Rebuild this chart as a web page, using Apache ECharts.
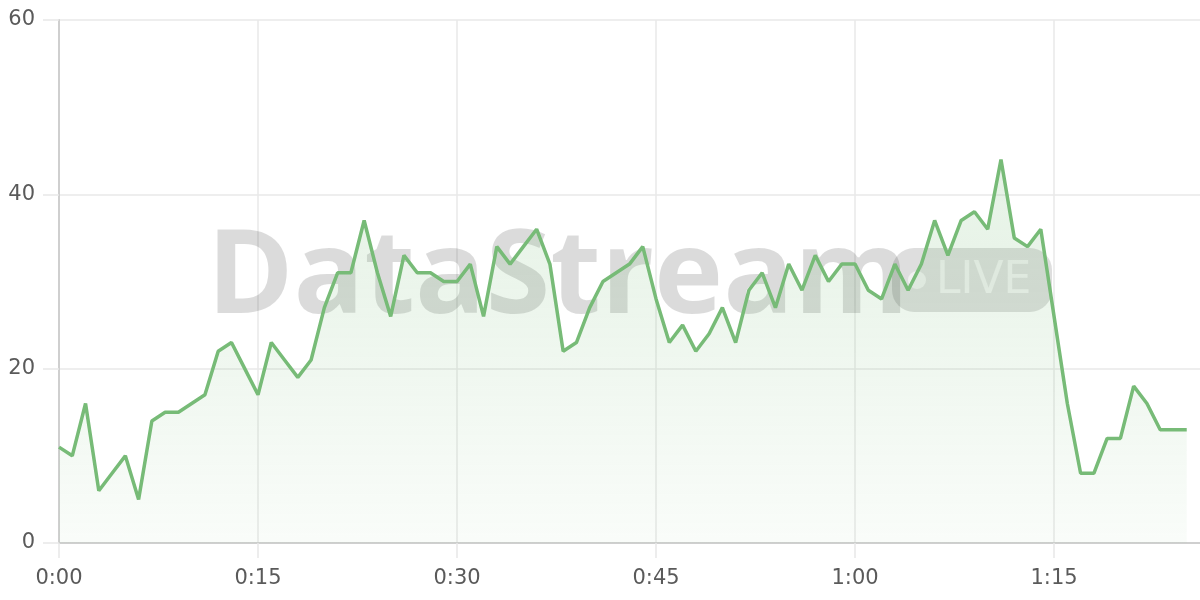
<!DOCTYPE html>
<html>
<head>
<meta charset="utf-8">
<title>DataStream</title>
<script src="https://cdn.jsdelivr.net/npm/echarts@6/dist/echarts.min.js"></script>
<style>
  html, body { margin: 0; padding: 0; background: #fff; }
  #chart { width: 1200px; height: 600px; }
</style>
</head>
<body>
<div id="chart"></div>
<script>
// one value per minute, 0:00 .. 1:25
const values = [
  11, 10, 16, 6, 8, 10, 5, 14, 15, 15,
  16, 17, 22, 23, 20, 17, 23, 21, 19, 21,
  27, 31, 31, 37, 31, 26, 33, 31, 31, 30,
  30, 32, 26, 34, 32, 34, 36, 32, 22, 23,
  27, 30, 31, 32, 34, 28, 23, 25, 22, 24,
  27, 23, 29, 31, 27, 32, 29, 33, 30, 32,
  32, 29, 28, 32, 29, 32, 37, 33, 37, 38,
  36, 44, 35, 34, 36, 26, 16, 8, 8, 12,
  12, 18, 16, 13, 13, 13
]
// axis runs one minute past the last sample (chart is cut at the right edge)
const minuteCount = 87
const categories = []
for (let m = 0; m < minuteCount; m++) {
  categories.push(Math.floor(m / 60) + ':' + String(m % 60).padStart(2, '0'))
}
const yTicks = { min: 0, max: 60, interval: 20 }

const LINE = '#77bb77'
const GRID = '#e8e8e8'
const AXIS = '#cfcfcf'
const LABEL = '#5a5a5a'
const FONT = 'DejaVu Sans'

const chart = echarts.init(document.getElementById('chart'))

const option = {
  animation: false,
  grid: { left: 59, right: 0, top: 20, bottom: 57, containLabel: false },
  xAxis: {
    type: 'category',
    data: categories,
    boundaryGap: false,
    axisLine: { lineStyle: { color: AXIS, width: 2 } },
    axisTick: { show: true, interval: 14, length: 15, lineStyle: { color: GRID, width: 1.5 } },
    axisLabel: { interval: 14, margin: 25, color: LABEL, fontSize: 21, fontFamily: FONT },
    splitLine: { show: true, interval: 14, lineStyle: { color: GRID, width: 1.5 } }
  },
  yAxis: {
    type: 'value',
    min: yTicks.min,
    max: yTicks.max,
    interval: yTicks.interval,
    axisLine: { show: true, lineStyle: { color: AXIS, width: 2 } },
    axisTick: { show: true, length: 16, lineStyle: { color: GRID, width: 1.5 } },
    axisLabel: { margin: 24, color: LABEL, fontSize: 21, fontFamily: FONT },
    splitLine: { lineStyle: { color: GRID, width: 1.5 } }
  },
  // watermark
  graphic: [
    {
      type: 'text', z: 1, silent: true,
      style: {
        x: 207, y: 280, text: 'DataStream',
        font: 'bold 117px "Open Sans"',
        fill: 'rgba(0,0,0,0.14)',
        textVerticalAlign: 'middle'
      }
    },
    {
      type: 'rect', z: 1, silent: true,
      shape: { x: 892, y: 248, width: 160, height: 64, r: 22 },
      style: { fill: 'rgba(0,0,0,0.13)' }
    },
    {
      type: 'circle', z: 1, silent: true,
      shape: { cx: 917, cy: 280, r: 9 },
      style: { fill: 'rgba(255,255,255,0.55)' }
    },
    {
      type: 'text', z: 1, silent: true,
      style: {
        x: 936, y: 282, text: 'LIVE',
        font: '44px "DejaVu Sans"',
        fill: 'rgba(255,255,255,0.55)',
        textVerticalAlign: 'middle'
      }
    }
  ],
  series: [
    {
      type: 'line',
      data: values,
      z: 3,
      symbol: 'none',
      lineStyle: { color: LINE, width: 3.5 },
      areaStyle: {
        color: new echarts.graphic.LinearGradient(0, 0, 0, 1, [
          { offset: 0, color: 'rgba(119,187,119,0.28)' },
          { offset: 1, color: 'rgba(119,187,119,0.06)' }
        ])
      }
    }
  ]
}

chart.setOption(option)
</script>
</body>
</html>
